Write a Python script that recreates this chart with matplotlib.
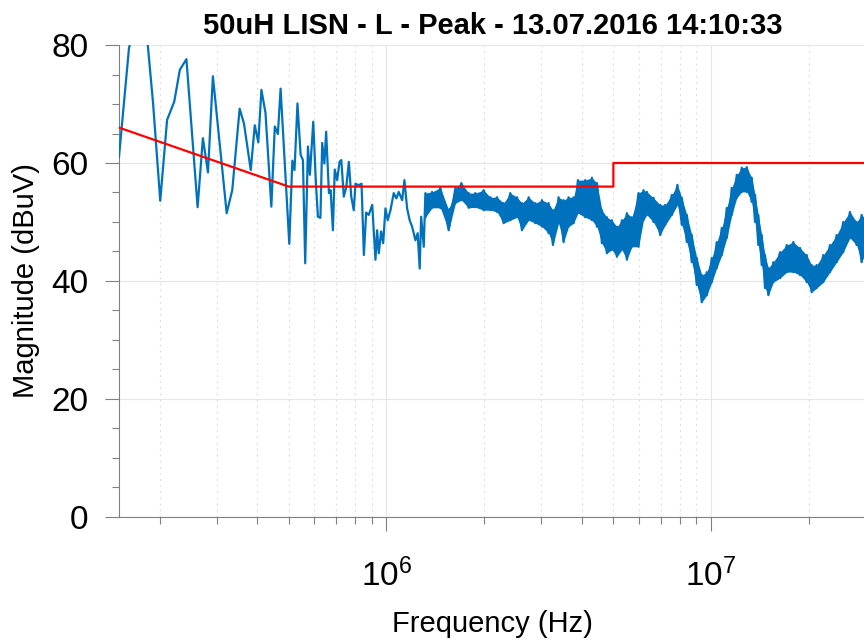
import numpy as np
import matplotlib.pyplot as plt
from matplotlib.ticker import LogLocator, MultipleLocator, NullFormatter

plt.rcParams['font.family'] = ['Liberation Sans', 'DejaVu Sans']

# low frequency part of the scan (single trace, kHz / dBuV)
sparse_khz = [150, 161, 171, 184, 191, 201, 211, 222, 231, 242,
              262, 272, 282, 292, 322, 335, 353, 364, 382, 393,
              403, 412, 424, 442, 453, 463, 472, 502, 513, 521,
              532, 544, 553, 562, 573, 581, 595, 606, 615, 626,
              634, 644, 652, 665, 673, 684, 693, 705, 717, 726,
              739, 752, 766, 779, 793, 803, 813, 827, 838, 852,
              866, 882, 904, 925, 936, 947, 963, 977, 993, 1009,
              1029, 1053, 1073, 1091, 1118, 1136, 1158, 1179, 1200, 1228,
              1248, 1266, 1279, 1303]
sparse_db = [61.0, 79.4, 86.0, 80.0, 70.2, 53.6, 67.3, 70.4, 75.8, 77.6,
             52.5, 64.2, 58.4, 74.7, 51.5, 55.4, 69.2, 66.7, 58.8, 66.4,
             63.5, 72.4, 68.5, 52.6, 66.2, 64.9, 72.6, 46.3, 60.4, 58.8,
             70.1, 61.4, 60.5, 43.0, 62.8, 58.0, 67.0, 56.8, 50.9, 50.7,
             63.4, 59.9, 65.3, 54.9, 55.4, 48.6, 58.9, 57.1, 60.2, 60.5,
             54.3, 55.9, 60.2, 54.3, 52.0, 56.5, 56.3, 56.3, 56.5, 44.4,
             51.6, 51.2, 52.9, 43.6, 48.6, 44.7, 48.4, 46.4, 52.3, 50.3,
             52.0, 54.9, 54.0, 55.1, 53.7, 57.1, 52.3, 50.3, 49.2, 46.9,
             48.1, 42.1, 50.9, 45.8]

# high frequency part: dense noisy trace, min/max envelope (MHz / dBuV)
dense_mhz = [1.318, 1.382, 1.466, 1.555, 1.631, 1.702, 1.792, 1.878, 1.993, 2.089,
             2.191, 2.296, 2.407, 2.525, 2.615, 2.741, 2.874, 3.014, 3.158, 3.258,
             3.390, 3.512, 3.638, 3.770, 3.889, 4.096, 4.295, 4.450, 4.610, 4.776,
             4.948, 5.127, 5.312, 5.503, 5.702, 5.975, 6.190, 6.342, 6.646, 6.969,
             7.221, 7.571, 7.876, 8.125, 8.419, 8.720, 9.036, 9.362, 9.700, 10.05,
             10.41, 10.79, 11.18, 11.58, 12.00, 12.43, 12.88, 13.34, 13.66, 13.98,
             14.32, 14.66, 15.01, 15.55, 16.31, 17.10, 17.92, 18.79, 19.70, 20.41,
             21.14, 22.16, 23.24, 24.37, 25.53, 26.77, 28.07, 29.09, 30.0]
dense_hi = [54.9, 55.1, 55.8, 52.0, 55.8, 56.6, 54.9, 54.9, 55.4, 54.2,
            54.2, 53.2, 54.9, 54.2, 53.2, 54.2, 53.2, 53.7, 53.2, 52.0,
            54.2, 53.7, 54.2, 54.2, 57.1, 57.1, 57.5, 56.6, 52.0, 50.8,
            50.3, 49.2, 50.3, 51.5, 50.8, 54.9, 55.4, 55.1, 54.1, 52.9,
            52.9, 54.6, 56.3, 54.1, 51.2, 47.8, 43.9, 41.0, 41.5, 43.9,
            46.6, 49.0, 52.4, 55.8, 58.0, 59.2, 59.3, 57.5, 54.6, 51.2,
            47.8, 44.4, 42.2, 43.2, 44.9, 46.1, 46.6, 45.6, 44.4, 42.7,
            42.7, 44.4, 46.1, 47.8, 50.0, 51.7, 50.0, 51.2, 50.5]
dense_lo = [50.8, 52.4, 52.4, 48.6, 53.2, 53.7, 52.4, 52.5, 52.0, 52.0,
            51.7, 49.8, 50.3, 50.8, 48.6, 50.3, 49.8, 49.2, 48.1, 46.1,
            49.8, 46.6, 49.2, 49.8, 51.5, 50.8, 50.3, 49.2, 46.4, 44.7,
            45.3, 44.1, 45.3, 43.6, 45.8, 45.8, 50.3, 51.2, 50.0, 47.8,
            49.5, 51.2, 52.9, 49.5, 46.6, 43.2, 39.3, 36.4, 37.6, 39.8,
            42.2, 44.4, 47.3, 51.2, 54.1, 55.1, 55.1, 53.4, 50.0, 46.1,
            42.7, 38.8, 37.6, 39.8, 40.5, 41.5, 41.5, 41.0, 39.8, 38.1,
            38.8, 39.8, 41.5, 43.2, 44.9, 47.3, 46.1, 43.2, 45.0]

# limit line
limit_mhz = [0.15, 0.5, 5.0, 5.0, 30.0]
limit_db = [66, 56, 56, 60, 60]

blue = '#0072BD'

f_dense = np.array(dense_mhz) * 1e6
hi = np.array(dense_hi)
lo = np.array(dense_lo)
zig = np.where(np.arange(len(hi)) % 2 == 0, hi, lo)
zag = np.where(np.arange(len(hi)) % 2 == 0, lo, hi)

f_trace = np.concatenate([np.array(sparse_khz) * 1e3, f_dense])
v_trace = np.concatenate([sparse_db, zig])

fig = plt.figure(figsize=(8.64, 6.43), dpi=100)
ax = fig.add_axes([0.1377, 0.196, 0.8646, 0.734])

ax.fill_between(f_dense, lo, hi, color=blue, lw=0, zorder=3)
ax.plot(f_trace, v_trace, color=blue, lw=1.6, zorder=3)
ax.plot(f_dense, zag, color=blue, lw=1.6, zorder=3)
ax.plot(np.array(limit_mhz) * 1e6, limit_db, color='#ff0000', lw=1.6, zorder=4)

ax.set_xscale('log')
ax.set_xlim(150e3, 30e6)
ax.set_ylim(0, 80)
ax.yaxis.set_major_locator(MultipleLocator(20))
ax.yaxis.set_minor_locator(MultipleLocator(5))
ax.xaxis.set_minor_locator(LogLocator(base=10, subs=np.arange(2, 10)))
ax.xaxis.set_minor_formatter(NullFormatter())

ax.grid(which='major', color='#e6e6e6', lw=0.8)
ax.grid(which='minor', axis='x', color='#dadada', ls=(0, (1.5, 4)), lw=0.8)
ax.set_axisbelow(True)

ax.tick_params(which='major', direction='out', length=10, width=0.8,
               color='#808080', labelcolor='black', labelsize=24)
ax.tick_params(which='minor', direction='out', length=5, width=0.8, color='#808080')
ax.tick_params(axis='y', which='major', pad=12)
ax.tick_params(axis='x', which='major', pad=20)

for s in ['top', 'right']:
    ax.spines[s].set_visible(False)
for s in ['left', 'bottom']:
    ax.spines[s].set_color('#808080')
    ax.spines[s].set_linewidth(0.8)

ax.set_title('50uH LISN - L - Peak - 13.07.2016 14:10:33', fontsize=21,
             fontweight='bold', pad=8)
ax.set_xlabel('Frequency (Hz)', fontsize=21, labelpad=12)
ax.set_ylabel('Magnitude (dBuV)', fontsize=21, labelpad=8)

fig.savefig('out.png', dpi=100)
